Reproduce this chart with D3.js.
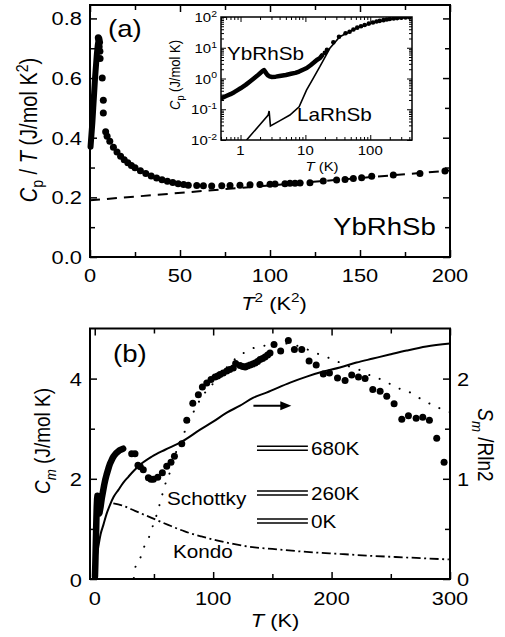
<!DOCTYPE html>
<html><head><meta charset="utf-8">
<script src="https://cdn.jsdelivr.net/npm/d3@7"></script>
<style>
body{margin:0;background:#fff}
svg{display:block}
text{font-family:"Liberation Sans",Arial,Helvetica,sans-serif;fill:#000}
</style></head><body>
<svg id="chart" width="505" height="637"></svg>
<script>
// ---------- Panel (a): Cp/T vs T^2 ----------
const aBandT2 = [0.3,0.8,1.3,1.8,2.3,2.8,3.3,3.8,4.3,4.7];
const aBandCT = [0.37,0.41,0.45,0.50,0.55,0.60,0.64,0.68,0.71,0.725];
const aPeakT2 = [4.6,5.0,5.3,5.1,5.5,5.6,6.8,7.4,7.4,8.7];
const aPeakCT = [0.735,0.73,0.72,0.705,0.69,0.666,0.600,0.526,0.483,0.42];
const aDenseT2 = [9.5,11,13,15,17,19,21,23,25,28,31,34,37,40,43,46,49,52];
const aDenseCT = [0.405,0.388,0.368,0.352,0.338,0.326,0.316,0.307,0.299,0.289,0.280,0.272,0.265,0.259,0.254,0.250,0.246,0.243];
const aSparseT2 = [54.6,59.3,63,67.6,73.2,77.8,83.3,88.9,94.4,100,102.8,108.3,111.1,113.9,116.7,122.2,129.6,137,141.7,146.3,150.9,156.5,168.5,183.3,197.2];
const aSparseCT = [0.241,0.240,0.239,0.238,0.239,0.240,0.241,0.242,0.243,0.244,0.245,0.246,0.247,0.247,0.248,0.249,0.255,0.258,0.260,0.263,0.266,0.271,0.275,0.280,0.288];
const aFitT2 = [0,200];
const aFitCT = [0.19,0.29];
const aXTicks = [0,50,100,150,200];
const aYTicks = [0.0,0.2,0.4,0.6,0.8];

// ---------- Inset: Cp vs T (log-log) ----------
const ybBandT = [0.5,0.6,0.7,0.8,0.9,1.0,1.2,1.4,1.6,1.8,2.0,2.15,2.3,2.45,2.6,2.8,3.0,3.5,4.0,5.0,6.0,7.0,8.0,9.0,10.5,12,13.5,15,16.7,18];
const ybBandC = [0.226,0.27,0.31,0.36,0.42,0.48,0.62,0.8,1.0,1.22,1.48,1.7,1.88,1.55,1.3,1.18,1.12,1.15,1.2,1.3,1.42,1.52,1.68,1.9,2.2,2.7,3.3,4.0,4.6,5.6];
const ybDotT = [19.9,21.5,27,33,41.6,48,55,63,72,82,95,110,125,140,160,180,200,230,260,300,350,400];
const ybDotC = [6.8,8.5,15,22.9,29.5,33.3,39,45,50,55,61,66,71,75,79,83,86,89,92,95,97,98];
const laT = [1.24,2.0,2.67,2.76,2.89,4.0,5.77,8.0,10.4,13,16.7,20,23.8,28,33.9,45,61.2,80,110,150,199,300,400];
const laC = [0.01,0.032,0.065,0.088,0.0285,0.042,0.065,0.12,0.42,0.96,2.42,4.9,9.6,14.3,22.9,30.9,43,52,65,74.6,84,92,98];
const inXTicks = [1,10,100];
const inYTicks = [0.01,0.1,1,10,100];
const inYExp = ["-2","-1","0","1","2"];

// ---------- Panel (b): Cm, S vs T ----------
const cmBandT = [0.2,0.5,0.8,1.1,1.4,1.7,2.0,2.3,2.6,3.0,3.5,4.0,5,6,7,8,9,10,11,12,13,14,15,16,17,18,19,20,21,22,23,24];
const cmBandC = [0.05,0.3,0.6,0.9,1.2,1.45,1.6,1.66,1.6,1.42,1.3,1.32,1.45,1.62,1.75,1.88,1.99,2.08,2.16,2.24,2.31,2.36,2.41,2.45,2.48,2.51,2.53,2.55,2.57,2.58,2.59,2.6];
const cmDotT = [31.2,34,36.5,38.5,41,45.3,47.5,49.5,53.2,57.1,60.8,64.4,67.3,73.5,77.7,82.8,87.5,90.9,94.6,98.2,101.6,103.8,105.8,108.5,111.5,114,117,119,122.7,125,127,129,131.2,133.5,135.5,137.5,139.6,141.7,143.8,146,148,151.4,157,163.5,168.6,174.8,181,187,193,198.2,205,211.4,217,222.7,228.3,234.8,241,246.6,252.8,259.3,264.9,271.4,277,282.6,288.8,295];
const cmDotC = [2.5,2.5,2.27,2.24,2.18,2.02,1.99,1.99,2.03,2.12,2.25,2.33,2.45,2.7,3.17,3.51,3.68,3.83,3.91,3.98,4.03,4.05,4.08,4.11,4.15,4.18,4.21,4.3,4.26,4.24,4.23,4.25,4.27,4.29,4.31,4.34,4.38,4.4,4.43,4.47,4.51,4.68,4.55,4.76,4.58,4.58,4.35,4.27,4.09,4.11,4.01,3.96,4.07,4.03,4.00,3.78,3.75,3.65,3.5,3.19,3.26,3.21,3.23,3.17,2.81,2.33];
const schT = [33,34,38.3,41.9,45.3,48.1,51.5,53.2,55.2,57.9,60.8,64.4,67.2,69.3,72,79,89,103,117,125,133,142,160,182,190,198,206,214,223,230,239,248,256,264,275,289,300];
const schC = [0.02,0.21,0.41,0.65,0.8,1.0,1.22,1.36,1.52,1.76,1.98,2.18,2.41,2.58,2.72,3.11,3.58,3.98,4.36,4.5,4.6,4.65,4.7,4.56,4.48,4.41,4.33,4.25,4.18,4.09,4.01,3.91,3.81,3.75,3.6,3.43,3.33];
const konT = [15.7,22.8,34,48,62,76,90,103,117,135,150,179,207,235,263,299];
const konC = [1.51,1.47,1.36,1.22,1.08,0.95,0.85,0.77,0.70,0.63,0.60,0.54,0.50,0.46,0.43,0.39];
const entT = [0,0.5,1.5,3,5,7.3,10,12.9,16,20,24,28.4,33,38.3,48,59.4,73.5,89,100,111.5,122.7,134,145,165,179,193,207,221,235,249,263.5,280,300];
const entS = [0,0.08,0.2,0.32,0.45,0.54,0.65,0.74,0.82,0.89,0.96,1.02,1.08,1.14,1.22,1.29,1.37,1.49,1.57,1.66,1.73,1.81,1.86,1.96,2.02,2.07,2.11,2.16,2.2,2.24,2.28,2.32,2.35];
const levelE = [0,260,680];
const levelLabels = ["0K","260K","680K"];
const bXTicks = [0,100,200,300];
const bYTicks = [0,2,4];
const bRTicks = [0,1,2];

// ---------- helpers ----------
const SX = 1.15;
const svg = d3.select("#chart");
svg.append("rect").attr("width",505).attr("height",637).attr("fill","#fff");

function label(g, x, y, parts, o={}) {
  const size = o.size||19, rot = o.rot||0;
  const tr = rot ? `translate(${x},${y}) rotate(${rot}) scale(1,${SX})` : `translate(${x},${y}) scale(${SX},1)`;
  const t = g.append("text").attr("transform", tr).attr("font-size", size).attr("text-anchor", o.anchor||"start");
  if (typeof parts === "string") parts = [{t:parts}];
  let shift = 0;
  parts.forEach(p => {
    const ts = t.append("tspan").text(p.t);
    let ns = 0, fs = size;
    if (p.sub) { ns = size*0.28; fs = size*0.7; }
    if (p.sup) { ns = -size*0.4; fs = size*0.7; }
    if (ns !== shift) ts.attr("dy", ns - shift);
    shift = ns;
    ts.attr("font-size", fs);
    if (p.it) ts.attr("font-style","italic");
  });
  return t;
}
function tickSet(g, axisFn, scale, values, size, transform, sw) {
  g.append("g").attr("transform", transform)
    .call(axisFn(scale).tickValues(values).tickSize(-size).tickSizeOuter(0).tickFormat(""))
    .call(s => s.select(".domain").remove())
    .selectAll("line").attr("stroke","#000").attr("stroke-width", sw||1.5);
}
function frame(g, x, y, sw) {
  const [x0,x1] = x.range(), [y0,y1] = y.range();
  g.append("rect").attr("x",x0).attr("y",y1).attr("width",x1-x0).attr("height",y0-y1)
    .attr("fill","none").attr("stroke","#000").attr("stroke-width",sw||2);
}
const zip = (a,b) => a.map((v,i)=>[v,b[i]]);

// ================= Panel (a) =================
const gA = svg.append("g");
const xa = d3.scaleLinear().domain([0,200]).range([90,450]);
const ya = d3.scaleLinear().domain([0,0.845]).range([257,5]);
const aXMinor = d3.range(25,200,50);
const aYMinor = [0.1,0.3,0.5,0.7];
tickSet(gA, d3.axisBottom, xa, aXTicks, 7, `translate(0,257)`);
tickSet(gA, d3.axisBottom, xa, aXMinor, 5, `translate(0,257)`);
tickSet(gA, d3.axisTop, xa, aXTicks, 7, `translate(0,5)`);
tickSet(gA, d3.axisTop, xa, aXMinor, 5, `translate(0,5)`);
tickSet(gA, d3.axisLeft, ya, aYTicks, 7, `translate(90,0)`);
tickSet(gA, d3.axisLeft, ya, aYMinor, 5, `translate(90,0)`);
tickSet(gA, d3.axisRight, ya, aYTicks, 7, `translate(450,0)`);
tickSet(gA, d3.axisRight, ya, aYMinor, 5, `translate(450,0)`);
aXTicks.forEach(v => label(gA, xa(v), 282, String(v), {anchor:"middle"}));
aYTicks.forEach(v => label(gA, 82, ya(v)+7, v.toFixed(1), {anchor:"end"}));

// fit line
gA.append("path").datum(zip(aFitT2,aFitCT))
  .attr("d", d3.line().x(d=>xa(d[0])).y(d=>ya(d[1])))
  .attr("fill","none").attr("stroke","#000").attr("stroke-width",2).attr("stroke-dasharray","10,7");
// data
gA.append("path").datum(zip(aBandT2,aBandCT))
  .attr("d", d3.line().x(d=>xa(d[0])).y(d=>ya(d[1])))
  .attr("fill","none").attr("stroke","#000").attr("stroke-width",6).attr("stroke-linecap","round").attr("stroke-linejoin","round");
gA.selectAll("circle.pk").data(zip(aPeakT2,aPeakCT)).join("circle")
  .attr("cx",d=>xa(d[0])).attr("cy",d=>ya(d[1])).attr("r",3.5).attr("fill","#000");
gA.selectAll("circle.dn").data(zip(aDenseT2,aDenseCT).concat(zip(aSparseT2,aSparseCT))).join("circle")
  .attr("cx",d=>xa(d[0])).attr("cy",d=>ya(d[1])).attr("r",3.5).attr("fill","#000");
frame(gA, xa, ya, 2);
label(gA, 108, 37, "(a)", {size:24});
label(gA, 333, 235, "YbRhSb", {size:24});
label(gA, 37, 130, [{t:"C",it:1},{t:"p",sub:1},{t:" / "},{t:"T",it:1},{t:" (J/mol K"},{t:"2",sup:1},{t:")"}], {size:20, rot:-90, anchor:"middle"});
label(gA, 274, 310, [{t:"T",it:1},{t:"2",sup:1},{t:" (K"},{t:"2",sup:1},{t:")"}], {size:19, anchor:"middle"});

// ================= Inset =================
const gI = svg.append("g");
const xi = d3.scaleLog().domain([0.5,440]).range([221,412]);
const yi = d3.scaleLog().domain([0.01,100]).range([140,17]);
gI.append("rect").attr("x",221).attr("y",17).attr("width",191).attr("height",123).attr("fill","#fff");
const inXMinor = [0.5,0.6,0.7,0.8,0.9,2,3,4,5,6,7,8,9,20,30,40,50,60,70,80,90,200,300,400];
const inYMinor = [];
[0.01,0.1,1,10].forEach(d => {for (let k=2;k<10;k++) inYMinor.push(d*k);});
tickSet(gI, d3.axisBottom, xi, inXTicks, 5, `translate(0,140)`, 1);
tickSet(gI, d3.axisBottom, xi, inXMinor, 3, `translate(0,140)`, 1);
tickSet(gI, d3.axisTop, xi, inXTicks, 5, `translate(0,17)`, 1);
tickSet(gI, d3.axisTop, xi, inXMinor, 3, `translate(0,17)`, 1);
tickSet(gI, d3.axisLeft, yi, inYTicks, 5, `translate(221,0)`, 1);
tickSet(gI, d3.axisLeft, yi, inYMinor, 3, `translate(221,0)`, 1);
tickSet(gI, d3.axisRight, yi, inYTicks, 5, `translate(412,0)`, 1);
tickSet(gI, d3.axisRight, yi, inYMinor, 3, `translate(412,0)`, 1);
svg.append("defs").append("clipPath").attr("id","clipI").append("rect")
  .attr("x",221).attr("y",17).attr("width",191).attr("height",123);
const gId = gI.append("g").attr("clip-path","url(#clipI)");
gId.append("path").datum(zip(laT,laC))
  .attr("d", d3.line().x(d=>xi(d[0])).y(d=>yi(d[1])))
  .attr("fill","none").attr("stroke","#000").attr("stroke-width",1.6);
gId.append("path").datum(zip(ybBandT,ybBandC))
  .attr("d", d3.line().x(d=>xi(d[0])).y(d=>yi(d[1])))
  .attr("fill","none").attr("stroke","#000").attr("stroke-width",4.5).attr("stroke-linecap","round").attr("stroke-linejoin","round");
gId.selectAll("circle").data(zip(ybDotT,ybDotC)).join("circle")
  .attr("cx",d=>xi(d[0])).attr("cy",d=>yi(d[1])).attr("r",2.3).attr("fill","#000");
frame(gI, xi, yi, 1.5);
inYTicks.forEach((v,i) => label(gI, 217, yi(v)+5, [{t:"10"},{t:inYExp[i],sup:1}], {size:13, anchor:"end"}));
inXTicks.forEach(v => label(gI, xi(v), 155, String(v), {size:13, anchor:"middle"}));
label(gI, 322, 171, [{t:"T",it:1},{t:" (K)"}], {size:13, anchor:"middle"});
label(gI, 180, 75, [{t:"C",it:1},{t:"p",sub:1},{t:" (J/mol K)"}], {size:13, rot:-90, anchor:"middle"});
label(gI, 227, 60, "YbRhSb", {size:18});
label(gI, 297, 121, "LaRhSb", {size:18});

// ================= Panel (b) =================
const gB = svg.append("g");
const xb = d3.scaleLinear().domain([-4,300]).range([90,450]);
const yb = d3.scaleLinear().domain([0,5]).range([579,328.5]);
const yr = d3.scaleLinear().domain([0,2.5]).range([579,328.5]);
const bXMinor = [50,150,250];
tickSet(gB, d3.axisBottom, xb, bXTicks, 7, `translate(0,579)`);
tickSet(gB, d3.axisBottom, xb, bXMinor, 5, `translate(0,579)`);
tickSet(gB, d3.axisTop, xb, bXTicks, 7, `translate(0,328.5)`);
tickSet(gB, d3.axisTop, xb, bXMinor, 5, `translate(0,328.5)`);
tickSet(gB, d3.axisLeft, yb, bYTicks, 7, `translate(90,0)`);
tickSet(gB, d3.axisLeft, yb, [1,3], 5, `translate(90,0)`);
tickSet(gB, d3.axisRight, yr, bRTicks, 7, `translate(450,0)`);
tickSet(gB, d3.axisRight, yr, [0.5,1.5], 5, `translate(450,0)`);
bXTicks.forEach(v => label(gB, xb(v), 605, String(v), {anchor:"middle"}));
bYTicks.forEach(v => label(gB, 82, yb(v)+7.5, String(v), {anchor:"end"}));
bRTicks.forEach(v => label(gB, 457, yr(v)+7, String(v)));

svg.select("defs").append("clipPath").attr("id","clipB").append("rect")
  .attr("x",90).attr("y",328.5).attr("width",360).attr("height",250.5);
const gBd = gB.append("g").attr("clip-path","url(#clipB)");
const lineB = d3.line().x(d=>xb(d[0])).y(d=>yb(d[1])).curve(d3.curveMonotoneX);
const lineR = d3.line().x(d=>xb(d[0])).y(d=>yr(d[1])).curve(d3.curveMonotoneX);
gBd.append("path").datum(zip(schT,schC)).attr("d", lineB)
  .attr("fill","none").attr("stroke","#000").attr("stroke-width",2).attr("stroke-linecap","round").attr("stroke-dasharray","0.1,11");
gBd.append("path").datum(zip(konT,konC)).attr("d", lineB)
  .attr("fill","none").attr("stroke","#000").attr("stroke-width",1.8).attr("stroke-dasharray","9,3.5,2,3.5");
gBd.append("path").datum(zip(entT,entS)).attr("d", lineR)
  .attr("fill","none").attr("stroke","#000").attr("stroke-width",2);
gBd.append("path").datum(zip(cmBandT,cmBandC))
  .attr("d", d3.line().x(d=>xb(d[0])).y(d=>yb(d[1])))
  .attr("fill","none").attr("stroke","#000").attr("stroke-width",6.5).attr("stroke-linecap","round").attr("stroke-linejoin","round");
gBd.selectAll("circle").data(zip(cmDotT,cmDotC)).join("circle")
  .attr("cx",d=>xb(d[0])).attr("cy",d=>yb(d[1])).attr("r",3.5).attr("fill","#000");
frame(gB, xb, yb, 2);

// arrow pointing to the right axis
const arrY = yb(3.46), ax0 = xb(134), ax1 = xb(166);
gB.append("line").attr("x1",ax0).attr("x2",ax1-6).attr("y1",arrY).attr("y2",arrY).attr("stroke","#000").attr("stroke-width",2);
gB.append("path").attr("d",`M${ax1},${arrY} L${ax1-11},${arrY-4.5} L${ax1-11},${arrY+4.5} Z`).attr("fill","#000");

// crystal-field level scheme
const eY = d3.scaleLinear().domain([0,680]).range([1.16,2.61]);
levelE.forEach((e,i) => {
  const yc = yb(eY(e));
  [-2,2].forEach(off => gB.append("line").attr("x1",xb(137)).attr("x2",xb(180))
    .attr("y1",yc+off).attr("y2",yc+off).attr("stroke","#000").attr("stroke-width",1.5));
  label(gB, xb(180)+3, yc+7, levelLabels[i], {size:18});
});

label(gB, 113, 362, "(b)", {size:24});
label(gB, 167, 505, "Schottky", {size:18});
label(gB, 173, 558, "Kondo", {size:18});
label(gB, 50, 441, [{t:"C",it:1},{t:"m",it:1,sub:1},{t:" (J/mol K)"}], {size:19, rot:-90, anchor:"middle"});
label(gB, 478, 445, [{t:"S",it:1},{t:"m",it:1,sub:1},{t:" /Rln2"}], {size:19, rot:90, anchor:"middle"});
label(gB, 275, 627, [{t:"T",it:1},{t:" (K)"}], {size:19, anchor:"middle"});
</script>
</body></html>
